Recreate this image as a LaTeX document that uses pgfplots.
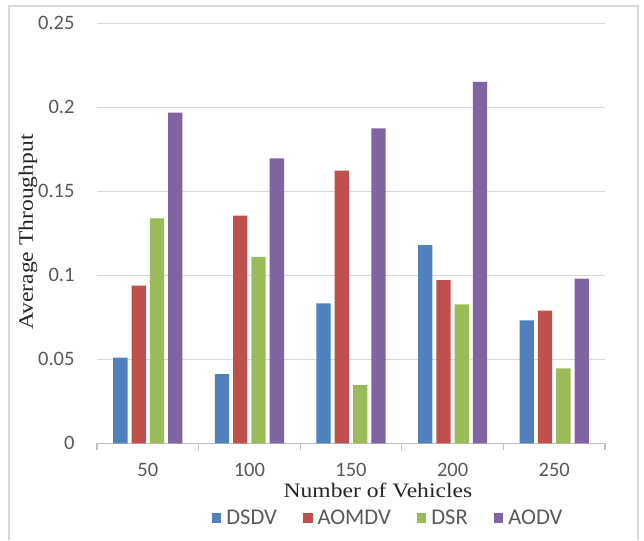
\documentclass[border=0pt]{standalone}
\usepackage{fontspec}
\setmainfont{Liberation Serif}
\newfontfamily\calfont{Carlito}
\newfontfamily\labfont[FakeStretch=1.15]{Liberation Serif}
\usepackage{pgfplots}
\pgfplotsset{compat=1.18}
\definecolor{cblue}{HTML}{4F81BD}
\definecolor{cred}{HTML}{C0504D}
\definecolor{cgreen}{HTML}{9BBB59}
\definecolor{cpurple}{HTML}{8064A2}
\definecolor{gridgray}{HTML}{D9D9D9}
\definecolor{axgray}{HTML}{BFBFBF}
\definecolor{txtgray}{HTML}{595959}
\definecolor{labcol}{HTML}{262626}
\definecolor{bordergray}{HTML}{D9D9D9}
\begin{document}
\begin{tikzpicture}[x=1pt,y=1pt]
\path[use as bounding box] (0,0) rectangle (644,540);
\draw[color=bordergray, line width=1.5pt] (9,0) -- (9,534) -- (638,534) -- (638,0);
\begin{axis}[
  at={(97pt,96.7pt)}, anchor=south west,
  scale only axis, width=508pt, height=420pt,
  ymin=0, ymax=0.25, xmin=-0.5, xmax=4.5,
  ybar=4pt, bar width=14.3pt,
  separate axis lines,
  axis x line*=bottom, axis y line*=left,
  y axis line style={draw=none},
  x axis line style={draw=axgray, line width=1.2pt},
  xtick={-0.5,0.5,1.5,2.5,3.5,4.5},
  xticklabels={50,100,150,200,250},
  x tick label as interval,
  xtick style={draw=axgray, line width=1.2pt},
  major tick length=7pt,
  tick align=outside,
  ytick={0,0.05,0.1,0.15,0.2,0.25},
  yticklabels={0,0.05,0.1,0.15,0.2,0.25},
  ytick style={draw=none},
  ymajorgrids,
  grid style={draw=gridgray, line width=1.5pt},
  ticklabel style={font=\calfont\fontsize{20.5}{24}\selectfont, text=txtgray},
  yticklabel style={xshift=-12pt},
  xticklabel style={yshift=-9pt},
  xlabel={Number of Vehicles},
  ylabel={Average Throughput},
  xlabel style={font=\labfont\fontsize{20.5}{24}\selectfont, text=labcol, at={(axis description cs:0.553,-0.128)}, anchor=base},
  ylabel style={font=\labfont\fontsize{20.5}{24}\selectfont, text=labcol, at={(axis description cs:-0.136,0.503)}, anchor=center},
  legend style={at={(axis description cs:0.573,-0.178)}, anchor=center, legend columns=4, draw=none, fill=none,
    font=\calfont\fontsize{22.5}{26}\selectfont, text=txtgray,
    /tikz/every odd column/.append style={column sep=3pt},
    /tikz/every even column/.append style={column sep=24pt}},
  legend image code/.code={\fill[#1] (0pt,-4.8pt) rectangle (9.6pt,4.8pt);},
]
\addplot[fill=cblue, draw=none] coordinates {(0,0.051) (1,0.0411) (2,0.0833) (3,0.118) (4,0.0732)};
\addplot[fill=cred, draw=none] coordinates {(0,0.0938) (1,0.1355) (2,0.1623) (3,0.0972) (4,0.0789)};
\addplot[fill=cgreen, draw=none] coordinates {(0,0.1339) (1,0.111) (2,0.0347) (3,0.0827) (4,0.0446)};
\addplot[fill=cpurple, draw=none] coordinates {(0,0.1968) (1,0.1696) (2,0.1875) (3,0.2152) (4,0.098)};
\legend{DSDV,AOMDV,DSR,AODV}
\end{axis}
\end{tikzpicture}
\end{document}
